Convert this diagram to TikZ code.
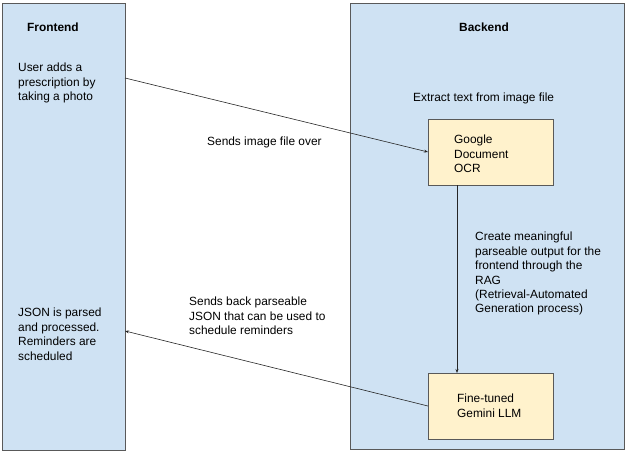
\documentclass[tikz,border=0pt]{standalone}
\usepackage{fontspec}
\setmainfont{Liberation Sans}
\usetikzlibrary{arrows.meta}
\definecolor{laneblue}{HTML}{CFE2F3}
\definecolor{boxyellow}{HTML}{FFF2CC}
\definecolor{edgegray}{HTML}{595959}
\tikzset{
  lane/.style={draw=edgegray, fill=laneblue, line width=0.8pt, inner sep=0pt, anchor=center},
  procbox/.style={draw=edgegray, fill=boxyellow, line width=0.8pt, inner sep=0pt, anchor=center, minimum width=125pt, minimum height=66pt},
  txt/.style={anchor=north west, inner sep=0pt, align=left, font=\fontsize{11.9pt}{14.4pt}\selectfont},
  btxt/.style={txt, font=\fontsize{11.9pt}{14.4pt}\selectfont\bfseries},
  conn/.style={draw=black!85, line width=0.6pt, -{Stealth[length=4pt,width=3pt]}}
}
\begin{document}
\begin{tikzpicture}[x=1pt,y=-1pt]
\useasboundingbox (0,0) rectangle (626,452);
\node[lane, minimum width=123pt, minimum height=447pt] (front) at (63.5,226.5) {};
\node[lane, minimum width=274pt, minimum height=446pt] (back) at (487,226) {};
\node[procbox] (ocr) at (490.5,152) {};
\node[procbox] (llm) at (490.5,406) {};
\node[btxt] (ftitle) at (27,23) {Frontend};
\node[btxt] (btitle) at (459,23) {Backend};
\node[txt] (user) at (18,63) {User adds a\\prescription by\\taking a photo};
\node[txt] (json) at (18,308) {JSON is parsed\\and processed.\\Reminders are\\scheduled};
\node[txt] (sends) at (207,137) {Sends image file over};
\node[txt] (sendback) at (189,297) {Sends back parseable\\JSON that can be used to\\schedule reminders};
\node[txt] (extract) at (413,93) {Extract text from image file};
\node[txt] (ocrtxt) at (454,135) {Google\\Document\\OCR};
\node[txt] (create) at (475,232) {Create meaningful\\parseable output for the\\frontend through the\\RAG\\(Retrieval-Automated\\Generation process)};
\node[txt] (llmtxt) at (457,394) {Fine-tuned\\Gemini LLM};
\coordinate (a1s) at (125,78);
\coordinate (a1e) at (428,152);
\coordinate (a2s) at (428,406);
\coordinate (a2e) at (125,331);
\coordinate (v1s) at (457,185);
\coordinate (v1e) at (457,373);
\draw[conn] (a1s) -- (a1e);
\draw[conn] (a2s) -- (a2e);
\draw[conn] (v1s) -- (v1e);
\end{tikzpicture}
\end{document}
